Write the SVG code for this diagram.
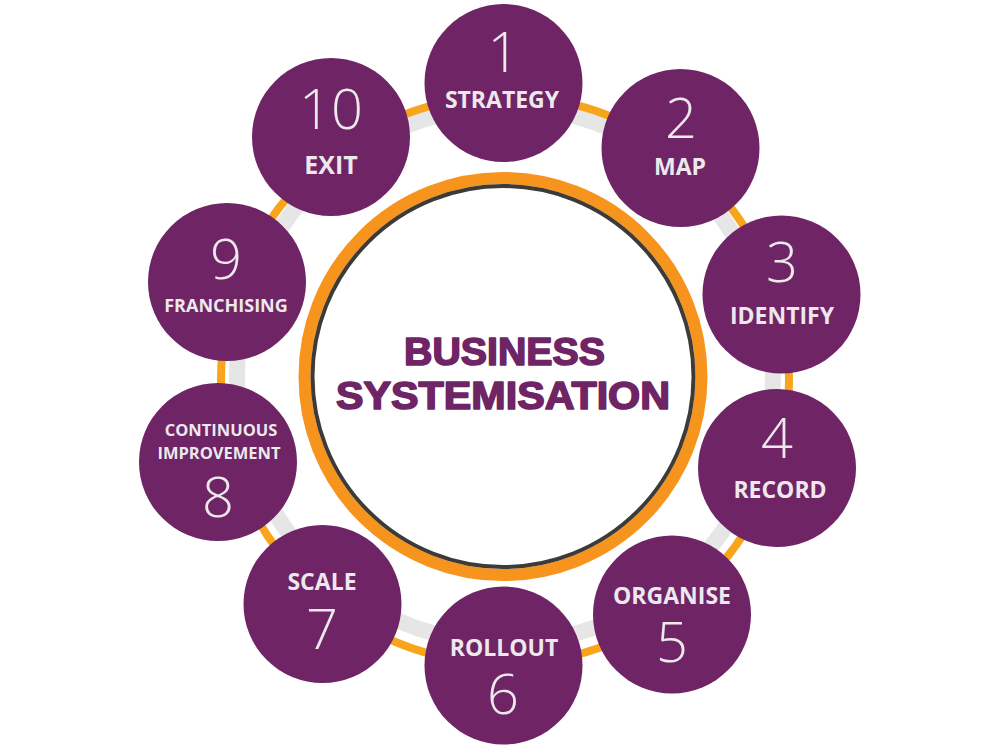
<svg xmlns="http://www.w3.org/2000/svg" width="1000" height="750" viewBox="0 0 1000 750">
<style>
.node{fill:#6e2465}
.num{font-family:"Open Sans","Noto Sans",sans-serif;font-weight:300;font-size:56px;fill:#ece8ec;text-anchor:middle}
.lbl{font-family:"Open Sans","Noto Sans",sans-serif;font-weight:700;font-size:23px;fill:#ece8ec;text-anchor:middle}
.title{font-family:"Liberation Sans",Arial,sans-serif;font-weight:700;font-size:38px;fill:#6e2465;stroke:#6e2465;stroke-width:1.6;stroke-linejoin:round;text-anchor:middle}
</style>
<rect width="1000" height="750" fill="#ffffff"/>
<g id="connectors">
<circle cx="505" cy="375" r="268" fill="none" stroke="#e6e6e6" stroke-width="16"/>
<circle cx="505" cy="380" r="284" fill="none" stroke="#f9a51b" stroke-width="8"/>
</g>
<g id="center">
<circle cx="503" cy="376.5" r="198.5" fill="#ffffff" stroke="#f7941e" stroke-width="12"/>
<circle cx="503" cy="376.5" r="190.5" fill="none" stroke="#3e3a36" stroke-width="4"/>
<text class="title" x="504.5" y="365" textLength="201" lengthAdjust="spacingAndGlyphs">BUSINESS</text>
<text class="title" x="503" y="409" textLength="334" lengthAdjust="spacingAndGlyphs">SYSTEMISATION</text>
</g>
<g id="n1"><circle class="node" cx="503.5" cy="83" r="79"/><text class="num" x="503.5" y="72">1</text><text class="lbl" x="502" y="108">STRATEGY</text></g>
<g id="n2"><circle class="node" cx="680.5" cy="148" r="79"/><text class="num" x="681" y="138">2</text><text class="lbl" x="680" y="175">MAP</text></g>
<g id="n3"><circle class="node" cx="781.5" cy="294.5" r="79"/><text class="num" x="782" y="282">3</text><text class="lbl" x="782" y="324">IDENTIFY</text></g>
<g id="n4"><circle class="node" cx="777" cy="468" r="79"/><text class="num" x="777" y="458">4</text><text class="lbl" x="780" y="498">RECORD</text></g>
<g id="n5"><circle class="node" cx="672" cy="614.5" r="79"/><text class="lbl" x="672" y="604">ORGANISE</text><text class="num" x="672" y="662">5</text></g>
<g id="n6"><circle class="node" cx="503.5" cy="665.5" r="79"/><text class="lbl" x="504" y="656">ROLLOUT</text><text class="num" x="503" y="714">6</text></g>
<g id="n7"><circle class="node" cx="322.5" cy="604" r="79"/><text class="lbl" x="322" y="590">SCALE</text><text class="num" x="322" y="649">7</text></g>
<g id="n8"><circle class="node" cx="218" cy="462" r="79"/><text class="lbl" x="221" y="436" style="font-size:16.5px">CONTINUOUS</text><text class="lbl" x="219" y="459" style="font-size:16.5px">IMPROVEMENT</text><text class="num" x="218" y="517">8</text></g>
<g id="n9"><circle class="node" cx="227" cy="282" r="79"/><text class="num" x="226" y="279">9</text><text class="lbl" x="226" y="312" style="font-size:18px">FRANCHISING</text></g>
<g id="n10"><circle class="node" cx="331" cy="137" r="79"/><text class="num" x="331" y="129">10</text><text class="lbl" x="331" y="174" style="font-size:25px">EXIT</text></g>
</svg>
